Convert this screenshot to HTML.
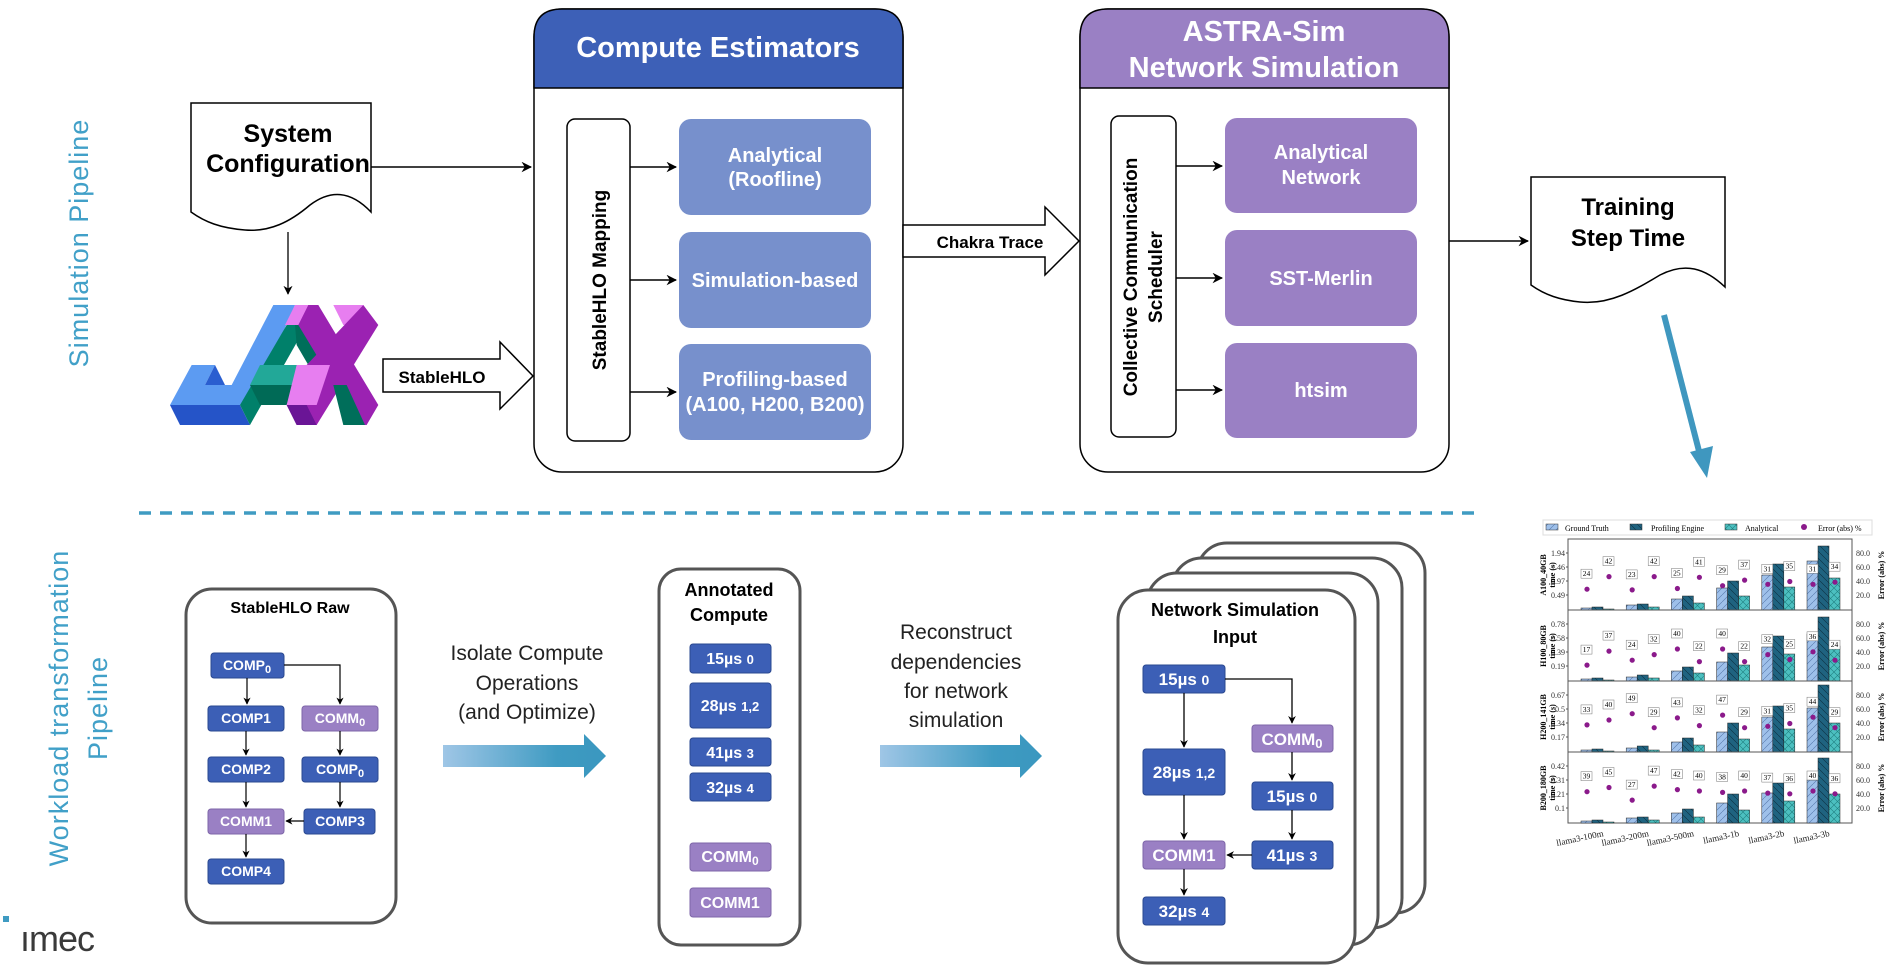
<!DOCTYPE html>
<html><head><meta charset="utf-8"><style>
html,body{margin:0;padding:0;background:#fff;}
svg{display:block;font-family:"Liberation Sans",Arial,sans-serif;}
.b{font-weight:bold;}
</style></head><body>
<svg id="s" width="1897" height="968" viewBox="0 0 1897 968" xmlns="http://www.w3.org/2000/svg">
<defs>
<marker id="ah" viewBox="0 0 10 10" refX="9" refY="5" markerWidth="7" markerHeight="7" orient="auto"><path d="M0,0 L10,5 L0,10 L3,5 z" fill="#000"/></marker>
<marker id="as" viewBox="0 0 10 10" refX="9" refY="5" markerWidth="6" markerHeight="6" orient="auto"><path d="M0,0 L10,5 L0,10 L3,5 z" fill="#000"/></marker>
<linearGradient id="g1" x1="0" x2="1" y1="0" y2="0"><stop offset="0" stop-color="#9fc6e6"/><stop offset="0.7" stop-color="#3f9bc2"/><stop offset="1" stop-color="#3a97bf"/></linearGradient>
<pattern id="hg" width="7" height="7" patternUnits="userSpaceOnUse"><rect width="7" height="7" fill="#9ec0ea"/><path d="M0,7 L7,0" stroke="#5577aa" stroke-width="0.6"/></pattern>
<pattern id="hp" width="7" height="7" patternUnits="userSpaceOnUse"><rect width="7" height="7" fill="#1f6380"/><path d="M0,0 L7,7" stroke="#0b2f40" stroke-width="0.6"/></pattern>
<pattern id="ha" width="7" height="7" patternUnits="userSpaceOnUse"><rect width="7" height="7" fill="#4cc0c0"/><path d="M0,0 L7,7 M0,7 L7,0" stroke="#1f7f80" stroke-width="0.6"/></pattern>
</defs>

<text x="0" y="0" transform="translate(88,243) rotate(-90)" text-anchor="middle" font-size="27" fill="#41a0c8" letter-spacing="1">Simulation  Pipeline</text>
<text x="0" y="0" transform="translate(68,708) rotate(-90)" text-anchor="middle" font-size="27" fill="#41a0c8" letter-spacing="1">Workload transformation</text>
<text x="0" y="0" transform="translate(107,708) rotate(-90)" text-anchor="middle" font-size="27" fill="#41a0c8" letter-spacing="1">Pipeline</text>

<path d="M191,103 L371,103 L371,212 C350,190 330,190 310,205 C290,222 270,232 245,230 C220,228 205,222 191,212 Z" fill="#fff" stroke="#000" stroke-width="1.5"/>
<text x="288" y="142" text-anchor="middle" font-size="25" class="b">System</text>
<text x="288" y="172" text-anchor="middle" font-size="25" class="b">Configuration</text>
<line x1="371" y1="167" x2="531" y2="167" stroke="#000" stroke-width="1.5" marker-end="url(#ah)"/>
<line x1="288" y1="232" x2="288" y2="294" stroke="#000" stroke-width="1.3" marker-end="url(#ah)"/>

<g transform="translate(160,295) scale(0.3333)">
<polygon points="30,330 240,330 270,390 60,390" fill="#2554c8"/>
<polygon points="340,30 405,30 300,270 270,330 30,330 95,210 165,210 135,270 215,270" fill="#5c9bf2"/>
<polygon points="135,270 165,210 195,270" fill="#2a5ed0"/>
<polygon points="380,90 440,90 270,390 240,330" fill="#00806a"/>
<polygon points="405,90 470,90 515,210 445,210 410,150" fill="#006e5a"/>
<polygon points="300,210 440,210 405,270 270,270" fill="#22a898"/>
<polygon points="270,270 405,270 380,330 300,330" fill="#006a56"/>
<polygon points="405,30 475,30 445,90 375,90" fill="#e77ef0"/>
<polygon points="445,30 475,30 655,330 620,390 560,390 560,330 415,90" fill="#9b22b2"/>
<polygon points="520,30 610,30 580,90 550,90" fill="#e77ef0"/>
<polygon points="610,30 655,90 470,390 410,390 380,330 440,210" fill="#9b22b2"/>
<polygon points="410,210 510,210 470,330 380,330" fill="#e77ef0"/>
<polygon points="380,330 440,330 470,390 410,390" fill="#6a1596"/>
<polygon points="520,270 560,270 615,390 550,390" fill="#006e5a"/>
</g>

<path d="M383,359 L500,359 L500,342 L533,376 L500,409 L500,392 L383,392 Z" fill="#fff" stroke="#000" stroke-width="1.5"/>
<text x="442" y="383" text-anchor="middle" font-size="17" class="b">StableHLO</text>

<rect x="534" y="9" width="369" height="463" rx="28" fill="#fff" stroke="#000" stroke-width="1.5"/>
<path d="M534,88 L534,37 Q534,9 562,9 L875,9 Q903,9 903,37 L903,88 Z" fill="#3d60b7" stroke="#000" stroke-width="1.5"/>
<text x="718" y="57" text-anchor="middle" font-size="29" fill="#fff" class="b">Compute Estimators</text>
<rect x="567" y="119" width="63" height="322" rx="8" fill="#fff" stroke="#000" stroke-width="1.5"/>
<text transform="translate(606,280) rotate(-90)" text-anchor="middle" font-size="19" class="b">StableHLO Mapping</text>
<rect x="679" y="119" width="192" height="96" rx="12" fill="#7790cc"/>
<rect x="679" y="232" width="192" height="96" rx="12" fill="#7790cc"/>
<rect x="679" y="344" width="192" height="96" rx="12" fill="#7790cc"/>
<text x="775" y="162" text-anchor="middle" font-size="20" fill="#fff" class="b">Analytical</text>
<text x="775" y="186" text-anchor="middle" font-size="20" fill="#fff" class="b">(Roofline)</text>
<text x="775" y="287" text-anchor="middle" font-size="20" fill="#fff" class="b">Simulation-based</text>
<text x="775" y="386" text-anchor="middle" font-size="20" fill="#fff" class="b">Profiling-based</text>
<text x="775" y="411" text-anchor="middle" font-size="20" fill="#fff" class="b">(A100, H200, B200)</text>
<line x1="630" y1="167" x2="676" y2="167" stroke="#000" stroke-width="1.5" marker-end="url(#ah)"/>
<line x1="630" y1="280" x2="676" y2="280" stroke="#000" stroke-width="1.5" marker-end="url(#ah)"/>
<line x1="630" y1="392" x2="676" y2="392" stroke="#000" stroke-width="1.5" marker-end="url(#ah)"/>

<path d="M903,225 L1045,225 L1045,207 L1079,241 L1045,275 L1045,257 L903,257 Z" fill="#fff" stroke="#000" stroke-width="1.5"/>
<text x="990" y="248" text-anchor="middle" font-size="17" class="b">Chakra Trace</text>

<rect x="1080" y="9" width="369" height="463" rx="28" fill="#fff" stroke="#000" stroke-width="1.5"/>
<path d="M1080,88 L1080,37 Q1080,9 1108,9 L1421,9 Q1449,9 1449,37 L1449,88 Z" fill="#9a80c4" stroke="#000" stroke-width="1.5"/>
<text x="1264" y="41" text-anchor="middle" font-size="29" fill="#fff" class="b">ASTRA-Sim</text>
<text x="1264" y="77" text-anchor="middle" font-size="29" fill="#fff" class="b">Network Simulation</text>
<rect x="1111" y="116" width="65" height="321" rx="8" fill="#fff" stroke="#000" stroke-width="1.5"/>
<text transform="translate(1137,277) rotate(-90)" text-anchor="middle" font-size="19" class="b">Collective Communication</text>
<text transform="translate(1162,277) rotate(-90)" text-anchor="middle" font-size="19" class="b">Scheduler</text>
<rect x="1225" y="118" width="192" height="95" rx="12" fill="#9a80c4"/>
<rect x="1225" y="230" width="192" height="96" rx="12" fill="#9a80c4"/>
<rect x="1225" y="343" width="192" height="95" rx="12" fill="#9a80c4"/>
<text x="1321" y="159" text-anchor="middle" font-size="20" fill="#fff" class="b">Analytical</text>
<text x="1321" y="184" text-anchor="middle" font-size="20" fill="#fff" class="b">Network</text>
<text x="1321" y="285" text-anchor="middle" font-size="20" fill="#fff" class="b">SST-Merlin</text>
<text x="1321" y="397" text-anchor="middle" font-size="20" fill="#fff" class="b">htsim</text>
<line x1="1176" y1="166" x2="1222" y2="166" stroke="#000" stroke-width="1.5" marker-end="url(#ah)"/>
<line x1="1176" y1="278" x2="1222" y2="278" stroke="#000" stroke-width="1.5" marker-end="url(#ah)"/>
<line x1="1176" y1="390" x2="1222" y2="390" stroke="#000" stroke-width="1.5" marker-end="url(#ah)"/>
<line x1="1449" y1="241" x2="1528" y2="241" stroke="#000" stroke-width="1.5" marker-end="url(#ah)"/>

<path d="M1531,177 L1725,177 L1725,287 C1705,268 1685,262 1660,275 C1635,290 1610,305 1580,302 C1560,300 1545,295 1531,285 Z" fill="#fff" stroke="#000" stroke-width="1.5"/>
<text x="1628" y="215" text-anchor="middle" font-size="24" class="b">Training</text>
<text x="1628" y="246" text-anchor="middle" font-size="24" class="b">Step Time</text>
<line x1="1664" y1="315" x2="1700" y2="455" stroke="#3f97bf" stroke-width="6"/>
<polygon points="1690,452 1713,446 1707,478" fill="#3f97bf"/>

<line x1="139" y1="513" x2="1480" y2="513" stroke="#3f9bc2" stroke-width="3.5" stroke-dasharray="12,9"/>

<rect x="186" y="589" width="210" height="334" rx="26" fill="#fff" stroke="#555" stroke-width="3"/>
<text x="290" y="613" text-anchor="middle" font-size="16" class="b">StableHLO Raw</text>
<g font-size="14" class="b" fill="#fff" text-anchor="middle" stroke="none">
<rect x="211" y="653" width="73" height="25" rx="3" fill="#3c5fb6" stroke="#2a4890"/>
<rect x="208" y="706" width="76" height="25" rx="3" fill="#3c5fb6" stroke="#2a4890"/>
<rect x="302" y="706" width="76" height="25" rx="3" fill="#9a80c4" stroke="#7e66a8"/>
<rect x="208" y="757" width="76" height="25" rx="3" fill="#3c5fb6" stroke="#2a4890"/>
<rect x="302" y="757" width="76" height="25" rx="3" fill="#3c5fb6" stroke="#2a4890"/>
<rect x="208" y="809" width="76" height="25" rx="3" fill="#9a80c4" stroke="#7e66a8"/>
<rect x="304" y="809" width="71" height="25" rx="3" fill="#3c5fb6" stroke="#2a4890"/>
<rect x="208" y="859" width="76" height="25" rx="3" fill="#3c5fb6" stroke="#2a4890"/>
<text x="247" y="670">COMP<tspan font-size="11" dy="3">0</tspan></text>
<text x="246" y="723">COMP1</text>
<text x="340" y="723">COMM<tspan font-size="11" dy="3">0</tspan></text>
<text x="246" y="774">COMP2</text>
<text x="340" y="774">COMP<tspan font-size="11" dy="3">0</tspan></text>
<text x="246" y="826">COMM1</text>
<text x="340" y="826">COMP3</text>
<text x="246" y="876">COMP4</text>
</g>
<g stroke="#000" stroke-width="1.2" fill="none">
<line x1="247" y1="678" x2="247" y2="704" marker-end="url(#as)"/>
<polyline points="284,665 340,665 340,704" marker-end="url(#as)"/>
<line x1="246" y1="731" x2="246" y2="755" marker-end="url(#as)"/>
<line x1="340" y1="731" x2="340" y2="755" marker-end="url(#as)"/>
<line x1="246" y1="782" x2="246" y2="807" marker-end="url(#as)"/>
<line x1="340" y1="782" x2="340" y2="807" marker-end="url(#as)"/>
<line x1="304" y1="821" x2="286" y2="821" marker-end="url(#as)"/>
<line x1="246" y1="834" x2="246" y2="857" marker-end="url(#as)"/>
</g>

<g font-size="21" fill="#222" text-anchor="middle">
<text x="527" y="660">Isolate Compute</text>
<text x="527" y="690">Operations</text>
<text x="527" y="719">(and Optimize)</text>
<text x="956" y="639">Reconstruct</text>
<text x="956" y="669">dependencies</text>
<text x="956" y="698">for network</text>
<text x="956" y="727">simulation</text>
</g>
<path d="M443,745 L584,745 L584,734 L606,756 L584,778 L584,767 L443,767 Z" fill="url(#g1)"/>
<path d="M880,745 L1020,745 L1020,734 L1042,756 L1020,778 L1020,767 L880,767 Z" fill="url(#g1)"/>

<rect x="659" y="569" width="141" height="376" rx="22" fill="#fff" stroke="#555" stroke-width="3"/>
<text x="729" y="596" text-anchor="middle" font-size="18" class="b">Annotated</text>
<text x="729" y="621" text-anchor="middle" font-size="18" class="b">Compute</text>
<g font-size="16" class="b" fill="#fff" text-anchor="middle">
<rect x="690" y="644" width="81" height="29" rx="3" fill="#3c5fb6" stroke="#2a4890"/>
<rect x="690" y="683" width="81" height="45" rx="3" fill="#3c5fb6" stroke="#2a4890"/>
<rect x="690" y="738" width="81" height="28" rx="3" fill="#3c5fb6" stroke="#2a4890"/>
<rect x="690" y="773" width="81" height="28" rx="3" fill="#3c5fb6" stroke="#2a4890"/>
<rect x="690" y="843" width="81" height="28" rx="3" fill="#9a80c4" stroke="#7e66a8"/>
<rect x="690" y="888" width="81" height="29" rx="3" fill="#9a80c4" stroke="#7e66a8"/>
<text x="730" y="664">15µs <tspan font-size="13">0</tspan></text>
<text x="730" y="711">28µs <tspan font-size="13">1,2</tspan></text>
<text x="730" y="758">41µs <tspan font-size="13">3</tspan></text>
<text x="730" y="793">32µs <tspan font-size="13">4</tspan></text>
<text x="730" y="862">COMM<tspan font-size="12" dy="3">0</tspan></text>
<text x="730" y="908">COMM1</text>
</g>

<g fill="#fff" stroke="#555" stroke-width="3">
<rect x="1197" y="543" width="228" height="370" rx="30"/>
<rect x="1172" y="558" width="230" height="370" rx="30"/>
<rect x="1147" y="573" width="231" height="372" rx="30"/>
<rect x="1118" y="590" width="237" height="373" rx="30"/>
</g>
<text x="1235" y="616" text-anchor="middle" font-size="18" class="b">Network Simulation</text>
<text x="1235" y="643" text-anchor="middle" font-size="18" class="b">Input</text>
<g font-size="17" class="b" fill="#fff" text-anchor="middle">
<rect x="1143" y="665" width="82" height="28" rx="3" fill="#3c5fb6" stroke="#2a4890"/>
<rect x="1252" y="725" width="81" height="27" rx="3" fill="#9a80c4" stroke="#7e66a8"/>
<rect x="1143" y="749" width="82" height="46" rx="3" fill="#3c5fb6" stroke="#2a4890"/>
<rect x="1252" y="782" width="81" height="28" rx="3" fill="#3c5fb6" stroke="#2a4890"/>
<rect x="1143" y="841" width="82" height="28" rx="3" fill="#9a80c4" stroke="#7e66a8"/>
<rect x="1252" y="841" width="81" height="28" rx="3" fill="#3c5fb6" stroke="#2a4890"/>
<rect x="1143" y="897" width="82" height="28" rx="3" fill="#3c5fb6" stroke="#2a4890"/>
<text x="1184" y="685">15µs <tspan font-size="14">0</tspan></text>
<text x="1292" y="745">COMM<tspan font-size="13" dy="3">0</tspan></text>
<text x="1184" y="778">28µs <tspan font-size="14">1,2</tspan></text>
<text x="1292" y="802">15µs <tspan font-size="14">0</tspan></text>
<text x="1184" y="861">COMM1</text>
<text x="1292" y="861">41µs <tspan font-size="14">3</tspan></text>
<text x="1184" y="917">32µs <tspan font-size="14">4</tspan></text>
</g>
<g stroke="#000" stroke-width="1.3" fill="none">
<polyline points="1225,679 1292,679 1292,723" marker-end="url(#as)"/>
<line x1="1184" y1="693" x2="1184" y2="747" marker-end="url(#as)"/>
<line x1="1292" y1="752" x2="1292" y2="780" marker-end="url(#as)"/>
<line x1="1184" y1="795" x2="1184" y2="839" marker-end="url(#as)"/>
<line x1="1292" y1="810" x2="1292" y2="839" marker-end="url(#as)"/>
<line x1="1252" y1="855" x2="1227" y2="855" marker-end="url(#as)"/>
<line x1="1184" y1="869" x2="1184" y2="895" marker-end="url(#as)"/>
</g>

<rect x="3" y="916" width="6" height="6" fill="#3f9bc2"/>
<text x="20" y="951" font-size="36" fill="#3a3a3a" letter-spacing="-1">ımec</text>

<g id="chart" font-family="Liberation Serif, serif"></g>
</svg>
<script>
(function(){
var g=document.getElementById('chart');var h='';
h+='<rect x="1543" y="520" width="329" height="15" fill="#fff" stroke="#ddd"/>';
h+='<rect x="1546" y="524" width="12" height="6" fill="url(#hg)" stroke="#333" stroke-width="0.5"/><text x="1565" y="531" font-size="8">Ground Truth</text>';
h+='<rect x="1630" y="524" width="12" height="6" fill="url(#hp)" stroke="#333" stroke-width="0.5"/><text x="1651" y="531" font-size="8">Profiling Engine</text>';
h+='<rect x="1725" y="524" width="12" height="6" fill="url(#ha)" stroke="#333" stroke-width="0.5"/><text x="1745" y="531" font-size="8">Analytical</text>';
h+='<circle cx="1804" cy="527" r="3" fill="#8b1a8b"/><text x="1818" y="531" font-size="8">Error (abs) %</text>';
var tops=[539,610,681,752];
var names=['A100_40GB','H100_80GB','H200_141GB','B200_180GB'];
var ticks=[['1.94','1.46','0.97','0.49'],['0.78','0.58','0.39','0.19'],['0.67','0.5','0.34','0.17'],['0.42','0.31','0.21','0.1']];
var GT=[[2,5,11,22,35,49],[2,4,10,19,34,47],[2,4,10,20,35,44],[2,5,10,20,30,43]];
var PE=[[3,6,14,29,46,64],[3,6,14,28,45,64],[3,6,14,29,46,67],[3,6,14,29,40,65]];
var AN=[[1,3,7,14,23,32],[1,3,8,16,27,35],[1,2,7,13,23,29],[1,3,6,13,22,29]];
var L1=[[24,23,25,29,31,31],[17,24,40,40,32,36],[33,49,43,47,31,44],[39,27,42,38,37,40]];
var L2=[[42,42,41,37,35,34],[37,32,22,22,25,24],[40,29,32,29,35,29],[45,47,40,40,36,36]];
for(var p=0;p<4;p++){
 var t=tops[p],b=t+71;
 h+='<rect x="1568" y="'+t+'" width="284" height="71" fill="none" stroke="#555" stroke-width="1"/>';
 for(var k=0;k<4;k++){var yy=t+14+k*14;h+='<text x="1565" y="'+(yy+3)+'" font-size="8" text-anchor="end" fill="#333">'+ticks[p][k]+'</text><line x1="1566" y1="'+yy+'" x2="1568" y2="'+yy+'" stroke="#555"/>';
  h+='<text x="1856" y="'+(yy+3)+'" font-size="8" fill="#333">'+['80.0','60.0','40.0','20.0'][k]+'</text>';}
 h+='<text transform="translate(1546,'+(t+36)+') rotate(-90)" font-size="8" font-weight="bold" text-anchor="middle">'+names[p]+'</text>';
 h+='<text transform="translate(1555,'+(t+36)+') rotate(-90)" font-size="8" font-weight="bold" text-anchor="middle">time (s)</text>';
 h+='<text transform="translate(1884,'+(t+36)+') rotate(-90)" font-size="8" font-weight="bold" text-anchor="middle">Error (abs) %</text>';
 for(var i=0;i<6;i++){
  var x=1581+i*45.2;
  var hs=[GT[p][i],PE[p][i],AN[p][i]],fs=['url(#hg)','url(#hp)','url(#ha)'];
  for(var j=0;j<3;j++){h+='<rect x="'+(x+j*11)+'" y="'+(b-hs[j])+'" width="11" height="'+hs[j]+'" fill="'+fs[j]+'" stroke="#222" stroke-width="0.5"/>';}
  var e1=b-L1[p][i]*0.7-4,e2=b-L2[p][i]*0.7-4;
  h+='<circle cx="'+(x+6)+'" cy="'+e1+'" r="2.6" fill="#8b1a8b"/><circle cx="'+(x+28)+'" cy="'+e2+'" r="2.6" fill="#8b1a8b"/>';
  h+='<rect x="'+(x)+'" y="'+(e1-20)+'" width="11" height="9" fill="#fff" stroke="#777" stroke-width="0.5"/><text x="'+(x+5.5)+'" y="'+(e1-13)+'" font-size="7.5" text-anchor="middle">'+L1[p][i]+'</text>';
  h+='<rect x="'+(x+22)+'" y="'+(e2-20)+'" width="11" height="9" fill="#fff" stroke="#777" stroke-width="0.5"/><text x="'+(x+27.5)+'" y="'+(e2-13)+'" font-size="7.5" text-anchor="middle">'+L2[p][i]+'</text>';
 }
}
var xl=['llama3-100m','llama3-200m','llama3-500m','llama3-1b','llama3-2b','llama3-3b'];
for(var i=0;i<6;i++){var x=1600+i*45.2;h+='<text transform="translate('+(x+4)+',836) rotate(-12)" font-size="9" text-anchor="end" fill="#222">'+xl[i]+'</text>';}
g.innerHTML=h;
})();
</script>
</body></html>
